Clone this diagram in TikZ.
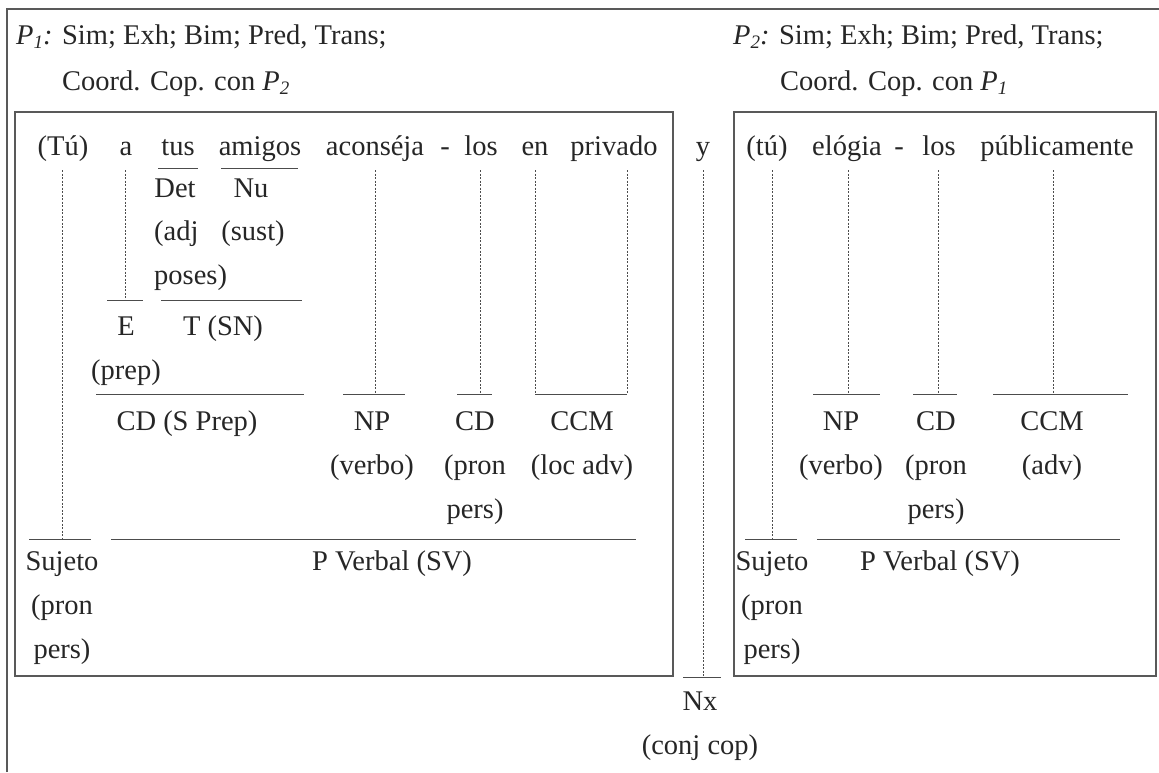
\documentclass[tikz,border=0pt]{standalone}
\usepackage{fontspec}
\setmainfont{Liberation Serif}

\newcommand{\Pn}[1]{\textit{P}\raisebox{-0.35ex}{\fontsize{19}{19}\selectfont\textit{#1}}}

\tikzset{
	txt/.style={inner sep=0pt, align=center, text=black!85,
		font=\fontsize{28.5}{44}\selectfont},
	barra/.style={line width=1pt, draw=black!70},
	guia/.style={line width=.8pt, draw=black!70, dash pattern=on 2pt off 1.5pt},
	marco/.style={line width=1.1pt, draw=black!65}
}

\begin{document}
\begin{tikzpicture}[x=1pt,y=-1pt]
		\useasboundingbox (0,0) rectangle (1159,772);
		% marcos
		\draw[marco] (7,772)--(7,9)--(1159,9);
		\draw[marco] (15,112) rectangle (673,676);
		\draw[marco] (734,112) rectangle (1156,676);
		% cabeceras
		\node[txt,anchor=base west] (cab1) at (16,44) {\Pn{1}\textit{:} Sim; Exh; Bim; Pred, Trans;};
		\node[txt,anchor=base west] (cab1b) at (62,90) {Coord. Cop. con \Pn{2}};
		\node[txt,anchor=base west] (cab2) at (733,44) {\Pn{2}\textit{:} Sim; Exh; Bim; Pred, Trans;};
		\node[txt,anchor=base west] (cab2b) at (780,90) {Coord. Cop. con \Pn{1}};
		% oracion
		\foreach \x/\w [count=\i] in {63/(Tú),126/a,178/tus,260/amigos,375/aconséja,445/-,
			481/los,535/en,614/privado,703/y,767/(tú),847/elógia,899/-,939/los,1057/públicamente}
		{
			\node[txt,anchor=base] (w\i) at (\x,155) {\w};
		}
		% lineas de puntos
		\foreach \x/\y in {62/539,125/300,375/394,480/394,535/394,627/394,703/677,
			772/539,848/394,938/394,1053/394}
		{
			\draw[guia] (\x,170)--(\x,\y);
		}
		% barras
		\foreach \a/\b/\y in {158/198/168,221/298/168,107/143/300,161/302/300,
			96/304/394,343/405/394,457/492/394,535/627/394,
			813/880/394,913/957/394,993/1128/394,
			29/91/539,111/636/539,745/797/539,817/1120/539,683/721/677}
		{
			\draw[barra] (\a,\y)--(\b,\y);
		}
		% funciones P1 (base = ultima linea)
		\node[txt,anchor=base] (det) at (175,197) {Det};
		\node[txt,anchor=base] (nu) at (251,197) {Nu};
		\node[txt,anchor=base west,align=left] (adj) at (154,284) {(adj\\poses)};
		\node[txt,anchor=base] (sust) at (253,240) {(sust)};
		\node[txt,anchor=base] (e) at (126,379) {E\\(prep)};
		\node[txt,anchor=base] (t) at (223,335) {T (SN)};
		\node[txt,anchor=base] (cdsp) at (187,430) {CD (S Prep)};
		\node[txt,anchor=base] (np1) at (372,474) {NP\\(verbo)};
		\node[txt,anchor=base] (cd1) at (475,518) {CD\\(pron\\pers)};
		\node[txt,anchor=base] (ccm1) at (582,474) {CCM\\(loc adv)};
		\node[txt,anchor=base] (suj1) at (62,658) {Sujeto\\(pron\\pers)};
		\node[txt,anchor=base] (pv1) at (392,570) {P Verbal (SV)};
		% funciones P2
		\node[txt,anchor=base] (np2) at (841,474) {NP\\(verbo)};
		\node[txt,anchor=base] (cd2) at (936,518) {CD\\(pron\\pers)};
		\node[txt,anchor=base] (ccm2) at (1052,474) {CCM\\(adv)};
		\node[txt,anchor=base] (suj2) at (772,658) {Sujeto\\(pron\\pers)};
		\node[txt,anchor=base] (pv2) at (940,570) {P Verbal (SV)};
		% nexo
		\node[txt,anchor=base] (nx) at (700,754) {Nx\\(conj cop)};
	\end{tikzpicture}
\end{document}
